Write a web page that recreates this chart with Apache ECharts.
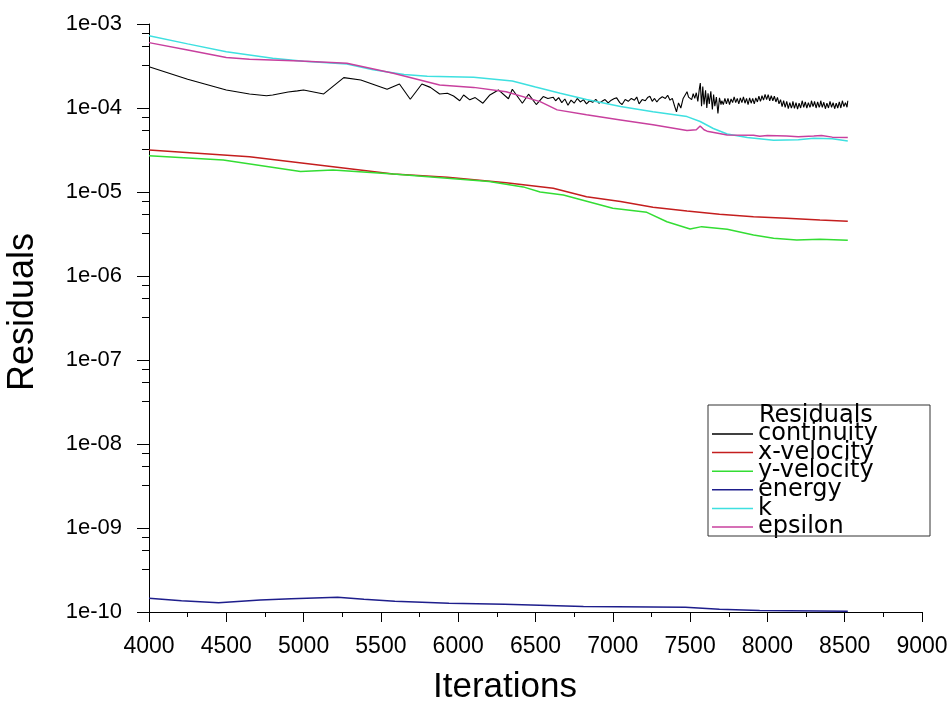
<!DOCTYPE html>
<html>
<head>
<meta charset="utf-8">
<script src="https://cdn.jsdelivr.net/npm/echarts@6/dist/echarts.min.js"></script>
<style>
html,body{margin:0;padding:0;background:#fff;}
#chart{width:947px;height:702px;}
</style>
</head>
<body>
<div id="chart"></div>
<script>
// ---- data ----
const seriesNames = ['continuity', 'x-velocity', 'y-velocity', 'energy', 'k', 'epsilon'];
const xTicks = [4000, 4500, 5000, 5500, 6000, 6500, 7000, 7500, 8000, 8500, 9000];
const yTickLabels = ['1e-03', '1e-04', '1e-05', '1e-06', '1e-07', '1e-08', '1e-09', '1e-10'];
const yMinorMantissas = [7.8, 5.5, 3.24];

const continuity = [
  [4000,3.1e-4],[4250,2.2e-4],[4500,1.64e-4],[4650,1.47e-4],[4760,1.4e-4],[4800,1.43e-4],[4900,1.55e-4],
  [4960,1.6e-4],[5000,1.64e-4],[5130,1.47e-4],[5260,2.3e-4],[5370,2.15e-4],[5540,1.67e-4],[5620,1.93e-4],
  [5690,1.27e-4],[5765,1.93e-4],[5820,1.76e-4],[5880,1.47e-4],[5930,1.5e-4],[5970,1.39e-4],[6010,1.22e-4],
  [6035,1.43e-4],[6075,1.25e-4],[6110,1.33e-4],[6160,1.14e-4],[6205,1.43e-4],[6260,1.64e-4],[6325,1.29e-4],
  [6350,1.67e-4],[6415,1.14e-4],[6455,1.46e-4],[6505,1.1e-4],[6550,1.37e-4],[6580,1.3e-4],[6615,1.34e-4],
  [6630,1.22e-4],[6650,1.33e-4],[6670,1.16e-4],[6690,1.28e-4],[6710,1.08e-4],[6730,1.24e-4],[6750,1.14e-4],
  [6770,1.3e-4],[6790,1.18e-4],[6810,1.26e-4],[6830,1.12e-4],[6850,1.22e-4],[6870,1.17e-4],[6890,1.27e-4],
  [6910,1.14e-4],[6930,1.2e-4],[6950,1.26e-4],[6970,1.15e-4],[6990,1.24e-4],[7010,1.3e-4],[7025,1.32e-4],
  [7045,1.16e-4],[7060,1.1e-4],[7080,1.26e-4],[7100,1.2e-4],[7120,1.3e-4],[7140,1.24e-4],[7155,1.35e-4],
  [7170,1.12e-4],[7190,1.26e-4],[7210,1.22e-4],[7225,1.33e-4],[7240,1.38e-4],[7255,1.2e-4],[7270,1.3e-4],
  [7285,1.18e-4],[7300,1.28e-4],[7320,1.36e-4],[7340,1.3e-4],[7355,1.42e-4],[7370,1.24e-4],[7385,1.3e-4],
  [7400,1.05e-4],[7412,9.0e-5],[7425,1.15e-4],[7440,1.0e-4],[7455,1.3e-4],[7470,1.45e-4],[7480,1.56e-4],
  [7490,1.35e-4],[7500,1.42e-4],[7510,1.26e-4],[7520,1.48e-4],[7530,1.3e-4],[7540,1.52e-4],[7550,1.2e-4],
  [7560,1.7e-4],[7566,1.98e-4],[7574,1.05e-4],[7582,1.8e-4],[7590,1.1e-4],[7600,1.62e-4],[7608,1.0e-4],
  [7616,1.5e-4],[7624,1.12e-4],[7634,1.58e-4],[7644,9.6e-5],[7652,1.45e-4],[7660,1.05e-4],[7670,1.35e-4],
  [7680,8.6e-5],[7690,1.32e-4],[7700,1.1e-4],[7705,1.22e-4],[7710,1.24e-4],[7715,1.1e-4],[7720,1.14e-4],
  [7725,1.3e-4],[7730,1.28e-4],[7735,1.12e-4],[7740,1.16e-4],[7745,1.3e-4],[7750,1.26e-4],[7755,1.1e-4],
  [7760,1.12e-4],[7765,1.28e-4],[7770,1.3e-4],[7775,1.16e-4],[7780,1.2e-4],[7785,1.36e-4],[7790,1.34e-4],
  [7795,1.16e-4],[7800,1.18e-4],[7805,1.3e-4],[7810,1.28e-4],[7815,1.12e-4],[7820,1.15e-4],[7825,1.32e-4],
  [7830,1.3e-4],[7835,1.16e-4],[7840,1.22e-4],[7845,1.36e-4],[7850,1.32e-4],[7855,1.14e-4],[7860,1.18e-4],
  [7865,1.3e-4],[7870,1.27e-4],[7875,1.1e-4],[7880,1.14e-4],[7885,1.32e-4],[7890,1.3e-4],[7895,1.14e-4],
  [7900,1.2e-4],[7905,1.3e-4],[7910,1.26e-4],[7915,1.12e-4],[7920,1.16e-4],[7925,1.32e-4],[7930,1.3e-4],
  [7935,1.18e-4],[7940,1.22e-4],[7945,1.38e-4],[7950,1.34e-4],[7955,1.2e-4],[7960,1.28e-4],[7965,1.4e-4],
  [7970,1.38e-4],[7975,1.24e-4],[7980,1.3e-4],[7985,1.45e-4],[7990,1.42e-4],[7995,1.26e-4],[8000,1.32e-4],
  [8005,1.44e-4],[8010,1.4e-4],[8015,1.22e-4],[8020,1.26e-4],[8025,1.4e-4],[8030,1.36e-4],[8035,1.22e-4],
  [8040,1.28e-4],[8045,1.38e-4],[8050,1.34e-4],[8055,1.18e-4],[8060,1.22e-4],[8065,1.34e-4],[8070,1.3e-4],
  [8075,1.12e-4],[8080,1.1e-4],[8085,1.26e-4],[8090,1.24e-4],[8095,1.04e-4],[8100,1.08e-4],[8105,1.22e-4],
  [8110,1.2e-4],[8115,1.02e-4],[8120,1.04e-4],[8125,1.2e-4],[8130,1.16e-4],[8135,9.8e-5],[8140,1.0e-4],
  [8145,1.16e-4],[8150,1.14e-4],[8155,1.0e-4],[8160,1.06e-4],[8165,1.2e-4],[8170,1.18e-4],[8175,9.9e-5],
  [8180,1.02e-4],[8185,1.16e-4],[8190,1.14e-4],[8195,9.7e-5],[8200,9.8e-5],[8205,1.14e-4],[8210,1.12e-4],
  [8215,1.0e-4],[8220,1.04e-4],[8225,1.22e-4],[8230,1.2e-4],[8235,1.02e-4],[8240,1.06e-4],[8245,1.18e-4],
  [8250,1.16e-4],[8255,1.0e-4],[8260,1.02e-4],[8265,1.16e-4],[8270,1.14e-4],[8275,1.02e-4],[8280,1.08e-4],
  [8285,1.22e-4],[8290,1.2e-4],[8295,1.04e-4],[8300,1.1e-4],[8305,1.2e-4],[8310,1.18e-4],[8315,1.0e-4],
  [8320,1.04e-4],[8325,1.18e-4],[8330,1.16e-4],[8335,1.02e-4],[8340,1.08e-4],[8345,1.22e-4],[8350,1.2e-4],
  [8355,1.02e-4],[8360,1.05e-4],[8365,1.17e-4],[8370,1.15e-4],[8375,9.8e-5],[8380,1.0e-4],[8385,1.14e-4],
  [8390,1.12e-4],[8395,1.0e-4],[8400,1.04e-4],[8405,1.2e-4],[8410,1.18e-4],[8415,1.02e-4],[8420,1.06e-4],
  [8425,1.16e-4],[8430,1.14e-4],[8435,9.8e-5],[8440,1.0e-4],[8445,1.14e-4],[8450,1.12e-4],[8455,1.0e-4],
  [8460,1.04e-4],[8465,1.18e-4],[8470,1.16e-4],[8475,1.0e-4],[8480,1.02e-4],[8485,1.22e-4],[8490,1.2e-4],
  [8495,1.04e-4],[8500,1.06e-4],[8505,1.16e-4],[8510,1.14e-4],[8515,1.02e-4],[8520,1.22e-4]
];
const xVelocity = [
  [4000,3.16e-5],[4650,2.63e-5],[5190,2.0e-5],[5580,1.64e-5],[5930,1.5e-5],[6310,1.29e-5],[6615,1.11e-5],
  [6830,8.8e-6],[7050,7.7e-6],[7260,6.6e-6],[7480,5.94e-6],[7690,5.42e-6],[7910,5.08e-6],[8125,4.86e-6],
  [8340,4.65e-6],[8520,4.5e-6]
];
const yVelocity = [
  [4000,2.7e-5],[4480,2.4e-5],[4980,1.75e-5],[5190,1.83e-5],[5580,1.64e-5],[5930,1.46e-5],[6200,1.33e-5],
  [6420,1.15e-5],[6530,1.0e-5],[6680,9.2e-6],[7000,6.4e-6],[7220,5.73e-6],[7350,4.43e-6],[7500,3.63e-6],
  [7575,3.87e-6],[7740,3.6e-6],[7910,3.08e-6],[8040,2.81e-6],[8190,2.69e-6],[8340,2.73e-6],[8520,2.66e-6]
];
const energy = [
  [4000,1.46e-10],[4210,1.36e-10],[4450,1.29e-10],[4720,1.39e-10],[4920,1.44e-10],[5220,1.5e-10],
  [5390,1.42e-10],[5590,1.34e-10],[5940,1.27e-10],[6300,1.24e-10],[6810,1.16e-10],[7470,1.14e-10],
  [7690,1.08e-10],[7950,1.04e-10],[8520,1.02e-10]
];
const kTurb = [
  [4000,7.26e-4],[4250,5.8e-4],[4500,4.68e-4],[4800,3.9e-4],[5000,3.6e-4],[5280,3.35e-4],[5450,2.85e-4],
  [5650,2.5e-4],[5800,2.38e-4],[6100,2.33e-4],[6350,2.1e-4],[6500,1.78e-4],[6660,1.5e-4],[6830,1.26e-4],
  [7050,1.04e-4],[7260,9.0e-5],[7480,7.9e-5],[7565,6.9e-5],[7650,5.7e-5],[7740,4.9e-5],[7870,4.45e-5],
  [8040,4.12e-5],[8200,4.2e-5],[8300,4.36e-5],[8420,4.3e-5],[8520,4.05e-5]
];
const epsilon = [
  [4000,6.0e-4],[4250,4.9e-4],[4500,4.0e-4],[4650,3.8e-4],[4980,3.63e-4],[5280,3.4e-4],[5580,2.59e-4],
  [5880,1.88e-4],[6100,1.76e-4],[6310,1.56e-4],[6530,1.19e-4],[6640,9.5e-5],[6830,8.3e-5],[7050,7.2e-5],
  [7260,6.3e-5],[7480,5.4e-5],[7540,5.5e-5],[7565,6.1e-5],[7590,5.5e-5],[7610,5.3e-5],[7740,4.77e-5],
  [7910,4.75e-5],[7950,4.6e-5],[8000,4.7e-5],[8125,4.64e-5],[8200,4.55e-5],[8300,4.64e-5],[8350,4.7e-5],
  [8420,4.5e-5],[8520,4.45e-5]
];

// ---- chart ----
const FONT = "'Liberation Sans', Arial, sans-serif";
const LFONT = "'DejaVu Sans', sans-serif";
const colors = ['#000000', '#c41e1e', '#33dd33', '#1e1e8c', '#3ee0e0', '#c8409e'];
const allData = [continuity, xVelocity, yVelocity, energy, kTurb, epsilon];
const widths = [1.1, 1.5, 1.5, 1.5, 1.5, 1.5];

const minorLogPositions = [];
for (let e = -3; e > -10; e--) {
  yMinorMantissas.forEach(m => minorLogPositions.push(e - 1 + Math.log10(m)));
}

const chart = echarts.init(document.getElementById('chart'), null, {renderer: 'canvas'});
chart.setOption({
  animation: false,
  backgroundColor: '#ffffff',
  color: colors,
  grid: {left: 149, right: 25, top: 24, bottom: 90, containLabel: false, outerBoundsMode: 'none'},
  xAxis: {
    type: 'value', min: xTicks[0], max: xTicks[xTicks.length - 1], interval: 500,
    axisLine: {show: true, onZero: false, lineStyle: {color: '#000', width: 1}},
    axisTick: {show: true, length: 10, lineStyle: {color: '#000'}},
    minorTick: {show: true, splitNumber: 2, length: 5, lineStyle: {color: '#000'}},
    splitLine: {show: false},
    axisLabel: {color: '#000', fontSize: 23, fontFamily: FONT, margin: 23, formatter: v => String(v)}
  },
  yAxis: [{
    type: 'log', logBase: 10, min: 1e-10, max: 1e-3, splitNumber: 7,
    axisLine: {show: true, onZero: false, lineStyle: {color: '#000', width: 1}},
    axisTick: {show: true, length: 12, lineStyle: {color: '#000'}},
    splitLine: {show: false},
    axisLabel: {
      color: '#000', fontSize: 22, fontFamily: FONT, margin: 27,
      formatter: v => yTickLabels[Math.round(-Math.log10(v)) - 3]
    }
  }, {
    type: 'value', min: -10, max: -3, position: 'left',
    axisLine: {show: false},
    axisLabel: {show: false},
    splitLine: {show: false},
    axisTick: {show: true, length: 7, customValues: minorLogPositions, lineStyle: {color: '#000'}}
  }],
  legend: {
    orient: 'vertical', left: 712, top: 422, padding: 0, itemGap: -5.4,
    itemWidth: 41, itemHeight: 1.5, icon: 'rect',
    textStyle: {fontSize: 24, fontFamily: LFONT, color: '#000'},
    data: seriesNames
  },
  graphic: [
    {type: 'rect', shape: {x: 708, y: 405, width: 222, height: 131},
     style: {fill: 'transparent', stroke: '#333', lineWidth: 1}, z: 100},
    {type: 'text', x: 759, y: 416,
     style: {text: 'Residuals', font: "24px " + LFONT, fill: '#000', textAlign: 'left', textVerticalAlign: 'middle'}, z: 100},
    {type: 'text', x: 505, y: 687,
     style: {text: 'Iterations', font: "35px " + FONT, fill: '#000', textAlign: 'center', textVerticalAlign: 'middle'}},
    {type: 'text', x: 23, y: 312, rotation: Math.PI / 2,
     style: {text: 'Residuals', font: "36px " + FONT, fill: '#000', textAlign: 'center', textVerticalAlign: 'middle'}}
  ],
  series: seriesNames.map((name, i) => ({
    name: name, type: 'line', yAxisIndex: 0, data: allData[i],
    symbol: 'none', showSymbol: false, smooth: false,
    lineStyle: {color: colors[i], width: widths[i]},
    itemStyle: {color: colors[i]}
  }))
});
</script>
</body>
</html>
